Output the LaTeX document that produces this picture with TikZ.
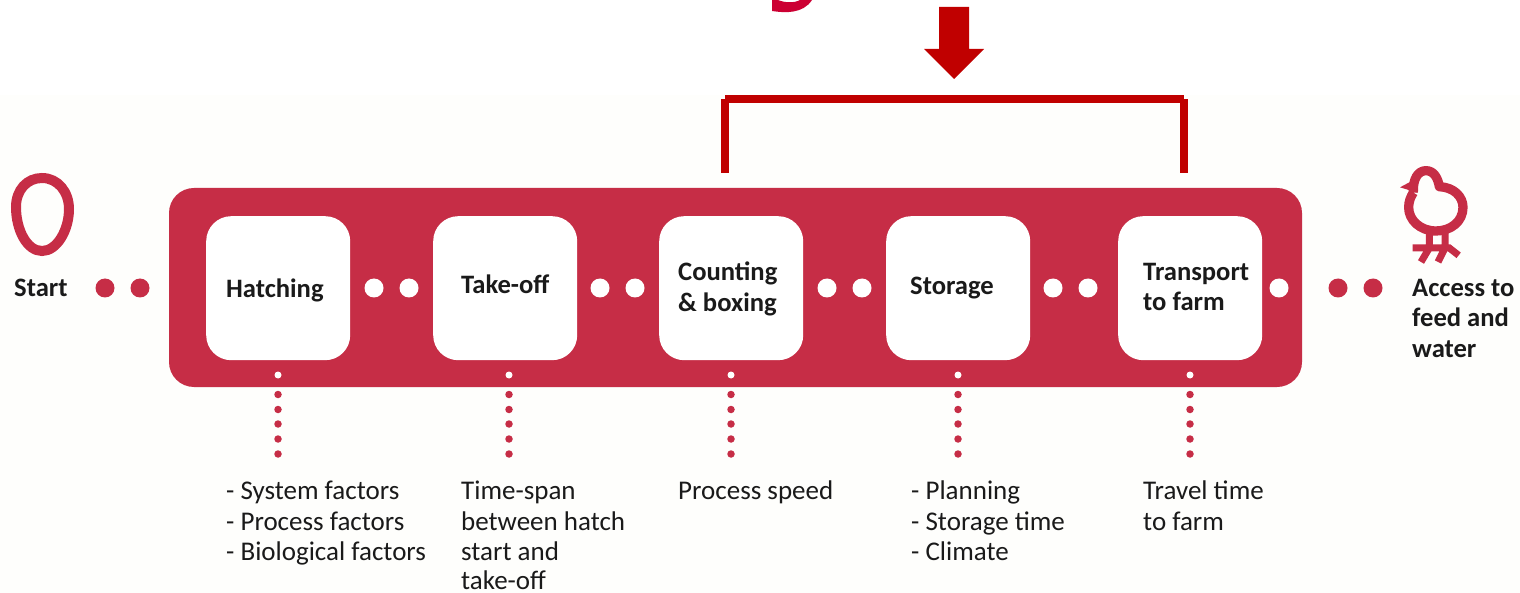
\documentclass[tikz,border=0pt]{standalone}
\usepackage{fontspec}
\setmainfont{Carlito}
\definecolor{band}{HTML}{C62D46}
\definecolor{brk}{HTML}{C00000}
\definecolor{gtail}{HTML}{CC0033}
\definecolor{paper}{HTML}{FEFEFC}
\definecolor{ink}{HTML}{1A1A1A}
\tikzset{
  stepbox/.style={fill=white,rounded corners=25pt,minimum width=144pt,minimum height=144pt,inner sep=0pt,anchor=north west},
  wdot/.style={circle,fill=white,minimum size=19pt,inner sep=0pt},
  rdot/.style={circle,fill=band,minimum size=19pt,inner sep=0pt},
  swdot/.style={circle,fill=white,minimum size=7pt,inner sep=0pt},
  srdot/.style={circle,fill=band,minimum size=7.5pt,inner sep=0pt},
  title/.style={anchor=base west,inner sep=0pt,text=ink,font=\fontsize{26.6}{27}\selectfont\bfseries},
  note/.style={anchor=base west,inner sep=0pt,text=ink,font=\fontsize{27}{27}\selectfont},
  brkline/.style={draw=brk,line width=8pt},
}
\begin{document}
\begin{tikzpicture}[x=1pt,y=-1pt]
\useasboundingbox (0,0) rectangle (1520,593);
\fill[white] (0,0) rectangle (1520,593);
\fill[paper] (0,95) rectangle (1520,593);
% clipped tail of a letter at the top
\fill[gtail] (772,0) -- (772,11) .. controls (785,13) and (803,14) .. (812,0) -- (800,0) .. controls (795,3) and (785,3) .. (778,0) -- cycle;
% arrow
\fill[brk] (939,7) -- (969,7) -- (969,49) -- (984,49) -- (954,79) -- (924,49) -- (939,49) -- cycle;
% bracket
\coordinate (bl) at (725,173);
\coordinate (blt) at (725,99);
\coordinate (brt) at (1184,99);
\coordinate (br) at (1184,173);
\draw[brkline] (bl) -- (blt);
\draw[brkline] (br) -- (brt);
\draw[brkline] (blt) -- (brt);
% band
\fill[band,rounded corners=25pt] (169,188) rectangle (1302,387);
% boxes
\node[stepbox] (b1) at (206,216) {};
\node[stepbox] (b2) at (433,216) {};
\node[stepbox] (b3) at (659,216) {};
\node[stepbox] (b4) at (886,216) {};
\node[stepbox] (b5) at (1118,216) {};
% box titles
\node[title] (t1) at (226,298) {Hatching};
\node[title] (t2) at (461,294) {Take-off};
\node[title] (t3a) at (678,281) {Counting};
\node[title] (t3b) at (678,312) {\& boxing};
\node[title] (t4) at (910,295) {Storage};
\node[title] (t5a) at (1143,281) {Transport};
\node[title] (t5b) at (1143,311) {to farm};
\node[title] (start) at (14,297) {Start};
\node[title] (acc1) at (1412,297) {Access to};
\node[title] (acc2) at (1412,327) {feed and};
\node[title] (acc3) at (1412,358) {water};
% flow dots
\foreach \n/\x in {a/374,b/409,c/600,d/635,e/827,f/862,g/1053,h/1088,i/1279}
  \node[wdot] (w\n) at (\x,288) {};
\foreach \n/\x in {a/105,b/140,c/1338,d/1373}
  \node[rdot] (r\n) at (\x,288) {};
% dotted leaders
\foreach \n/\x in {1/278,2/509,3/731,4/958,5/1190}{
  \node[swdot] (s\n) at (\x,375) {};
  \foreach \k/\y in {1/394.5,2/409.5,3/424,4/439,5/454}
    \node[srdot] (d\n\k) at (\x,\y) {};
}
% notes
\node[note] (n1a) at (226,499) {- System factors};
\node[note] (n1b) at (226,530) {- Process factors};
\node[note] (n1c) at (226,560) {- Biological factors};
\node[note] (n2a) at (461,499) {Time-span};
\node[note] (n2b) at (461,530) {between hatch};
\node[note] (n2c) at (461,560) {start and};
\node[note] (n2d) at (461,589) {take-off};
\node[note] (n3) at (678,499) {Process speed};
\node[note] (n4a) at (911,499) {- Planning};
\node[note] (n4b) at (911,530) {- Storage time};
\node[note] (n4c) at (911,560) {- Climate};
\node[note] (n5a) at (1143,499) {Travel time};
\node[note] (n5b) at (1143,530) {to farm};
% egg
\draw[band,line width=10pt] (42,178) .. controls (58,178) and (69,192) .. (69,209)
  .. controls (69,230) and (57,251) .. (42,251)
  .. controls (27,251) and (16,230) .. (16,207)
  .. controls (16,190) and (27,178) .. (42,178) -- cycle;
% chick
\begin{scope}[shift={(1300,150)},x=0.3333pt,y=-0.3333pt]
  \draw[band,line width=9.3pt,line join=round] (340,128) .. controls (338,85) and (355,62) .. (378,62)
    .. controls (402,62) and (414,85) .. (418,110)
    .. controls (462,112) and (489,140) .. (489,172)
    .. controls (489,215) and (452,243) .. (408,243)
    .. controls (360,243) and (326,210) .. (326,172)
    .. controls (326,155) and (332,140) .. (340,128);
  \fill[band] (300,112) -- (345,88) -- (352,128) -- cycle;
  \draw[band,line width=7pt] (388,243) -- (388,298) (435,243) -- (435,298)
    (338,294) -- (448,294) -- (476,316)
    (388,294) -- (363,336) (435,294) -- (414,336);
\end{scope}
\end{tikzpicture}
\end{document}
